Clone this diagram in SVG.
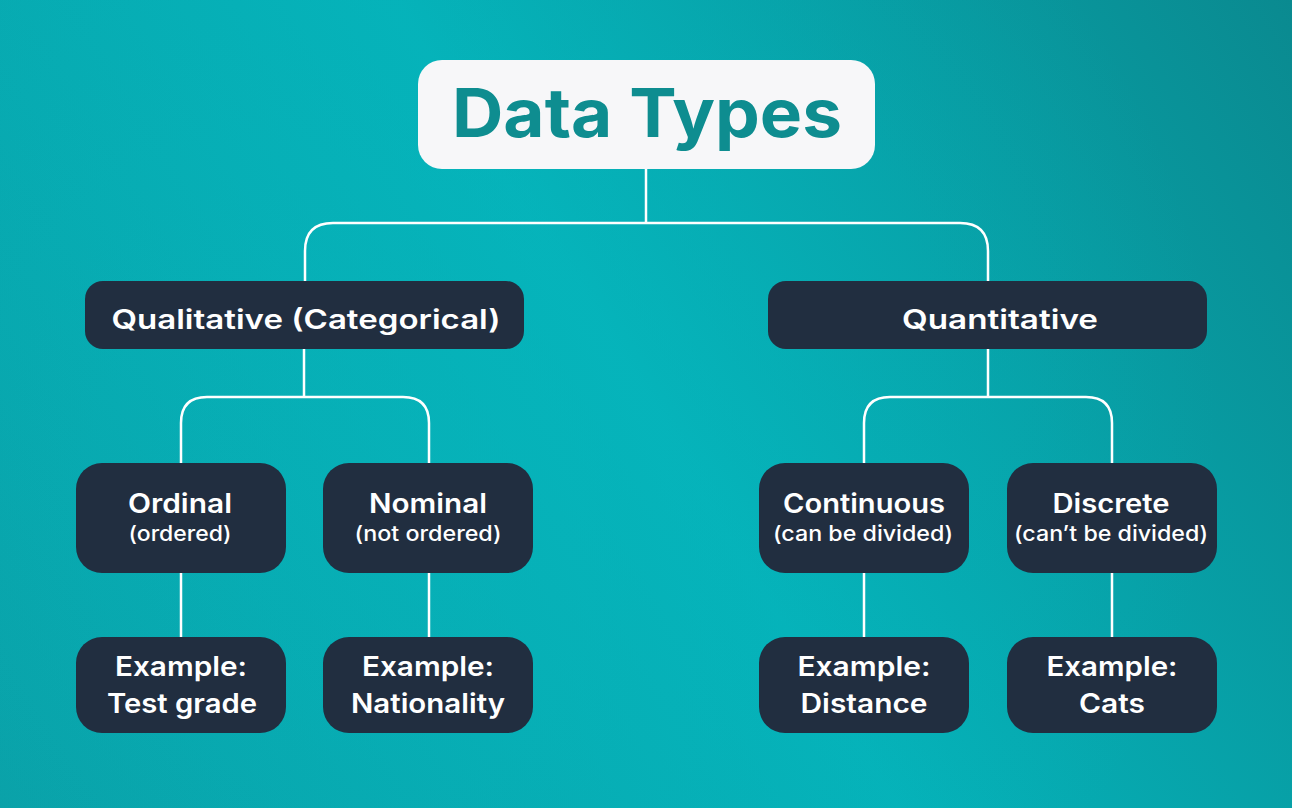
<svg xmlns="http://www.w3.org/2000/svg" width="1292" height="808" viewBox="0 0 1292 808">
<defs>
<linearGradient id="bg" x1="1292" y1="0" x2="0" y2="808" gradientUnits="userSpaceOnUse">
<stop offset="0" stop-color="#0a8a90"/>
<stop offset="0.5" stop-color="#05b2b9"/>
<stop offset="1" stop-color="#0aa1a8"/>
</linearGradient>
<radialGradient id="glow" cx="520" cy="420" r="700" gradientUnits="userSpaceOnUse">
<stop offset="0" stop-color="#06b6bd" stop-opacity="0.5"/>
<stop offset="1" stop-color="#06b6bd" stop-opacity="0"/>
</radialGradient>
<style>
.box{fill:#212e40;}
.t{font-family:Inter,"Open Sans","Liberation Sans",sans-serif;fill:#ffffff;text-anchor:middle;font-weight:600;}
.big{font-size:27px;}
.sub{font-size:21px;font-weight:500;}
.ex{font-size:27px;}
.conn{fill:none;stroke:#ffffff;stroke-width:2.5;}
</style>
</defs>
<rect width="1292" height="808" fill="url(#bg)"/>
<rect width="1292" height="808" fill="url(#glow)"/>
<g id="connectors">
<path class="conn" d="M646 169 V223"/>
<path class="conn" d="M305 281 V251 Q305 223 333 223 H960 Q988 223 988 251 V281"/>
<path class="conn" d="M304 349 V397"/>
<path class="conn" d="M181 463 V423 Q181 397 207 397 H403 Q429 397 429 423 V463"/>
<path class="conn" d="M988 349 V397"/>
<path class="conn" d="M864 463 V423 Q864 397 890 397 H1086 Q1112 397 1112 423 V463"/>
<path class="conn" d="M181 573 V637"/>
<path class="conn" d="M429 573 V637"/>
<path class="conn" d="M864 573 V637"/>
<path class="conn" d="M1112 573 V637"/>
</g>
<g id="title">
<rect x="418" y="60" width="457" height="109" rx="24" fill="#f7f7f9"/>
<text x="647" y="137" font-family="Inter,'Open Sans','Liberation Sans',sans-serif" font-weight="700" font-size="67" fill="#0e8d90" text-anchor="middle" textLength="390" lengthAdjust="spacingAndGlyphs">Data Types</text>
</g>
<g id="qualitative">
<rect class="box" x="85" y="281" width="439" height="68" rx="18"/>
<text class="t big" x="306" y="329" textLength="389" lengthAdjust="spacingAndGlyphs">Qualitative (Categorical)</text>
</g>
<g id="quantitative">
<rect class="box" x="768" y="281" width="439" height="68" rx="18"/>
<text class="t big" x="1000" y="329" textLength="196" lengthAdjust="spacingAndGlyphs">Quantitative</text>
</g>
<g id="ordinal">
<rect class="box" x="76" y="463" width="210" height="110" rx="26"/>
<text class="t big" x="180" y="513" textLength="104" lengthAdjust="spacingAndGlyphs">Ordinal</text>
<text class="t sub" x="180" y="541" textLength="103" lengthAdjust="spacingAndGlyphs">(ordered)</text>
</g>
<g id="nominal">
<rect class="box" x="323" y="463" width="210" height="110" rx="26"/>
<text class="t big" x="428" y="513" textLength="118" lengthAdjust="spacingAndGlyphs">Nominal</text>
<text class="t sub" x="428" y="541" textLength="147" lengthAdjust="spacingAndGlyphs">(not ordered)</text>
</g>
<g id="continuous">
<rect class="box" x="759" y="463" width="210" height="110" rx="26"/>
<text class="t big" x="864" y="513" textLength="162" lengthAdjust="spacingAndGlyphs">Continuous</text>
<text class="t sub" x="863" y="541" textLength="180" lengthAdjust="spacingAndGlyphs">(can be divided)</text>
</g>
<g id="discrete">
<rect class="box" x="1007" y="463" width="210" height="110" rx="26"/>
<text class="t big" x="1111" y="513" textLength="117" lengthAdjust="spacingAndGlyphs">Discrete</text>
<text class="t sub" x="1111" y="541" textLength="194" lengthAdjust="spacingAndGlyphs">(can’t be divided)</text>
</g>
<g id="ex-ordinal">
<rect class="box" x="76" y="637" width="210" height="96" rx="26"/>
<text class="t ex" x="181" y="676" textLength="132" lengthAdjust="spacingAndGlyphs">Example:</text>
<text class="t ex" x="182" y="713" textLength="150" lengthAdjust="spacingAndGlyphs">Test grade</text>
</g>
<g id="ex-nominal">
<rect class="box" x="323" y="637" width="210" height="96" rx="26"/>
<text class="t ex" x="428" y="676" textLength="132" lengthAdjust="spacingAndGlyphs">Example:</text>
<text class="t ex" x="428" y="713" textLength="154" lengthAdjust="spacingAndGlyphs">Nationality</text>
</g>
<g id="ex-continuous">
<rect class="box" x="759" y="637" width="210" height="96" rx="26"/>
<text class="t ex" x="864" y="676" textLength="133" lengthAdjust="spacingAndGlyphs">Example:</text>
<text class="t ex" x="864" y="713" textLength="127" lengthAdjust="spacingAndGlyphs">Distance</text>
</g>
<g id="ex-discrete">
<rect class="box" x="1007" y="637" width="210" height="96" rx="26"/>
<text class="t ex" x="1112" y="676" textLength="131" lengthAdjust="spacingAndGlyphs">Example:</text>
<text class="t ex" x="1112" y="713" textLength="66" lengthAdjust="spacingAndGlyphs">Cats</text>
</g>
</svg>
